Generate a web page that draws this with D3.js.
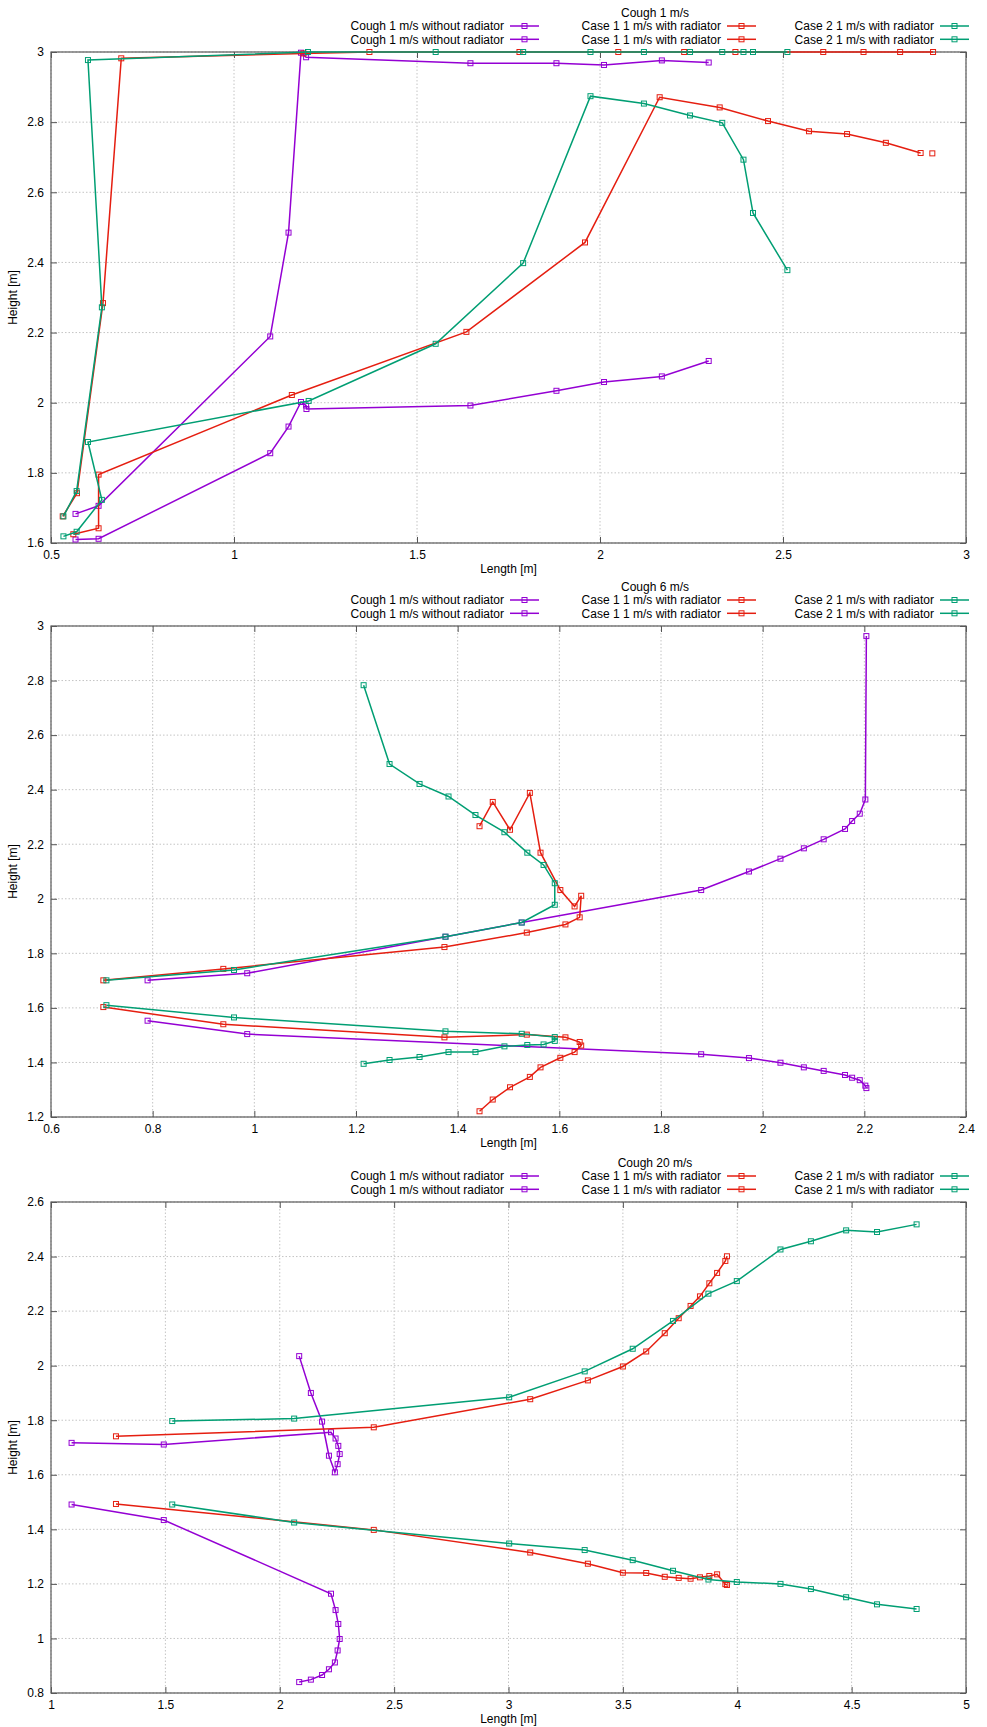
<!DOCTYPE html>
<html>
<head>
<meta charset="utf-8">
<script src="https://cdn.jsdelivr.net/npm/d3@7"></script>
<style>
  body { margin: 0; background: #fff; }
  text { font-family: "Liberation Sans", Arial, sans-serif; }
</style>
</head>
<body>
<svg width="987" height="1727"></svg>
<script>
// legend labels (same names are used for both branches of each case)
var seriesNames = ["Cough 1 m/s without radiator", "Cough 1 m/s without radiator",
                   "Case 1 1 m/s with radiator", "Case 1 1 m/s with radiator",
                   "Case 2 1 m/s with radiator", "Case 2 1 m/s with radiator"];
var panelTitles = ["Cough 1 m/s", "Cough 6 m/s", "Cough 20 m/s"];

// tick values
var p1XTicks = [0.5, 1, 1.5, 2, 2.5, 3];
var p1YTicks = [1.6, 1.8, 2, 2.2, 2.4, 2.6, 2.8, 3];
var p2XTicks = [0.6, 0.8, 1, 1.2, 1.4, 1.6, 1.8, 2, 2.2, 2.4];
var p2YTicks = [1.2, 1.4, 1.6, 1.8, 2, 2.2, 2.4, 2.6, 2.8, 3];
var p3XTicks = [1, 1.5, 2, 2.5, 3, 3.5, 4, 4.5, 5];
var p3YTicks = [0.8, 1, 1.2, 1.4, 1.6, 1.8, 2, 2.2, 2.4, 2.6];

// ---- Cough 1 m/s : [length, height], null = break in the line
var p1NoRadA = [[0.567,1.683],[0.630,1.706],[1.099,2.189],[1.149,2.485],[1.183,2.998],[1.197,2.985],[1.646,2.968],[1.881,2.968],[2.011,2.963],[2.169,2.976],[2.297,2.970]];
var p1NoRadB = [[0.567,1.610],[0.630,1.612],[1.099,1.856],[1.149,1.932],[1.183,2.002],[1.197,1.992],[1.198,1.982],[1.646,1.992],[1.881,2.034],[2.011,2.059],[2.169,2.075],[2.297,2.119]];
var p1Case1A = [[0.532,1.676],[0.571,1.742],[0.642,2.284],[0.692,2.982],[1.19,2.996],[1.37,3.0],[1.78,3.0],[2.05,3.0],[2.23,3.0],[2.37,3.0],[2.61,3.0],[2.72,3.0],[2.82,3.0],[2.91,3.0]];
var p1Case1B = [[0.561,1.625],[0.630,1.642],[0.630,1.795],[1.158,2.022],[1.635,2.202],[1.959,2.457],[2.163,2.871],[2.327,2.842],[2.459,2.803],[2.571,2.774],[2.675,2.766],[2.781,2.741],[2.876,2.712],null,[2.908,2.711]];
var p1Case2A = [[0.534,1.676],[0.570,1.748],[0.639,2.272],[0.601,2.977],[1.202,3.0],[1.551,3.0],[1.790,3.0],[1.974,3.0],[2.120,3.0],[2.246,3.0],[2.334,3.0],[2.392,3.0],[2.418,3.0],[2.512,3.0]];
var p1Case2B = [[0.534,1.619],[0.570,1.632],[0.639,1.723],[0.601,1.888],[1.204,2.005],[1.551,2.168],[1.790,2.398],[1.974,2.874],[2.120,2.853],[2.246,2.819],[2.334,2.798],[2.392,2.693],[2.418,2.541],[2.512,2.378]];

// ---- Cough 6 m/s
var p2NoRadA = [[0.790,1.701],[0.986,1.727],[1.376,1.861],[1.526,1.913],[1.879,2.032],[1.973,2.100],[2.035,2.147],[2.081,2.185],[2.120,2.218],[2.162,2.256],[2.176,2.285],[2.191,2.312],[2.202,2.364],[2.204,2.963]];
var p2NoRadB = [[0.790,1.553],[0.986,1.504],[1.879,1.430],[1.973,1.416],[2.035,1.399],[2.081,1.382],[2.120,1.369],[2.162,1.354],[2.176,1.344],[2.191,1.335],[2.202,1.315],[2.204,1.306]];
var p2Case1A = [[0.703,1.701],[0.939,1.743],[1.374,1.823],[1.536,1.876],[1.612,1.906],[1.640,1.932],[1.643,2.011],[1.630,1.972],[1.602,2.032],[1.563,2.169],[1.542,2.388],[1.503,2.253],[1.469,2.355],[1.443,2.266]];
var p2Case1B = [[0.703,1.603],[0.939,1.540],[1.374,1.492],[1.536,1.502],[1.612,1.492],[1.640,1.475],[1.643,1.462],[1.630,1.438],[1.602,1.417],[1.563,1.382],[1.542,1.347],[1.503,1.309],[1.469,1.264],[1.443,1.221]];
var p2Case2A = [[0.709,1.701],[0.960,1.739],[1.376,1.861],[1.526,1.913],[1.591,1.978],[1.591,2.057],[1.569,2.124],[1.537,2.169],[1.492,2.244],[1.435,2.307],[1.382,2.375],[1.325,2.421],[1.266,2.494],[1.215,2.783]];
var p2Case2B = [[0.709,1.610],[0.960,1.565],[1.376,1.514],[1.526,1.505],[1.591,1.493],[1.591,1.479],[1.569,1.466],[1.537,1.464],[1.492,1.459],[1.435,1.438],[1.382,1.438],[1.325,1.420],[1.266,1.409],[1.215,1.395]];

// ---- Cough 20 m/s
var p3NoRadA = [[1.090,1.717],[1.493,1.711],[2.224,1.756],[2.244,1.733],[2.256,1.706],[2.262,1.676],[2.253,1.639],[2.241,1.609],[2.215,1.670],[2.185,1.795],[2.136,1.900],[2.085,2.035]];
var p3NoRadB = [[1.090,1.491],[1.493,1.434],[2.224,1.164],[2.244,1.104],[2.256,1.053],[2.262,0.998],[2.253,0.956],[2.241,0.912],[2.215,0.887],[2.185,0.866],[2.136,0.849],[2.085,0.840]];
var p3Case1A = [[1.284,1.741],[2.411,1.774],[3.095,1.877],[3.347,1.946],[3.500,1.997],[3.602,2.052],[3.683,2.119],[3.744,2.174],[3.796,2.219],[3.837,2.254],[3.878,2.302],[3.912,2.340],[3.948,2.384],[3.955,2.401]];
var p3Case1B = [[1.284,1.493],[2.411,1.398],[3.095,1.315],[3.347,1.274],[3.500,1.241],[3.602,1.240],[3.683,1.226],[3.744,1.222],[3.796,1.219],[3.837,1.224],[3.878,1.229],[3.912,1.235],[3.948,1.199],[3.955,1.196]];
var p3Case2A = [[1.530,1.797],[2.063,1.806],[3.003,1.884],[3.333,1.979],[3.543,2.062],[3.719,2.164],[3.874,2.264],[3.998,2.310],[4.189,2.426],[4.322,2.456],[4.476,2.496],[4.611,2.490],[4.784,2.518]];
var p3Case2B = [[1.530,1.491],[2.063,1.425],[3.003,1.348],[3.333,1.324],[3.543,1.287],[3.719,1.248],[3.874,1.216],[3.998,1.207],[4.189,1.200],[4.322,1.181],[4.476,1.151],[4.611,1.125],[4.784,1.108]];

var colors = ["#9400d3", "#9400d3", "#e51e10", "#e51e10", "#009e73", "#009e73"];

var panels = [
  { title: panelTitles[0], xTicks: p1XTicks, yTicks: p1YTicks, top: 52,
    series: [p1NoRadA, p1NoRadB, p1Case1A, p1Case1B, p1Case2A, p1Case2B] },
  { title: panelTitles[1], xTicks: p2XTicks, yTicks: p2YTicks, top: 626,
    series: [p2NoRadA, p2NoRadB, p2Case1A, p2Case1B, p2Case2A, p2Case2B] },
  { title: panelTitles[2], xTicks: p3XTicks, yTicks: p3YTicks, top: 1202,
    series: [p3NoRadA, p3NoRadB, p3Case1A, p3Case1B, p3Case2A, p3Case2B] }
];

var svg = d3.select("svg");
svg.append("rect").attr("width", 987).attr("height", 1727).attr("fill", "#fff");

var left = 51, right = 966, height = 491;
var legendTextEnd = [504, 721, 934];

panels.forEach(function (p) {
  var top = p.top, bottom = top + height;
  var x = d3.scaleLinear().domain(d3.extent(p.xTicks)).range([left, right]);
  var y = d3.scaleLinear().domain(d3.extent(p.yTicks)).range([bottom, top]);
  var g = svg.append("g");

  // grid
  g.append("g").selectAll("line").data(p.xTicks).enter().append("line")
    .attr("x1", function (d) { return x(d); }).attr("x2", function (d) { return x(d); })
    .attr("y1", top).attr("y2", bottom)
    .attr("stroke", "#c4c4c4").attr("stroke-dasharray", "1.5,2");
  g.append("g").selectAll("line").data(p.yTicks).enter().append("line")
    .attr("y1", function (d) { return y(d); }).attr("y2", function (d) { return y(d); })
    .attr("x1", left).attr("x2", right)
    .attr("stroke", "#c4c4c4").attr("stroke-dasharray", "1.5,2");

  // axes (ticks pointing inwards, mirrored on top and right)
  var ax = [
    g.append("g").attr("transform", "translate(0," + bottom + ")")
      .call(d3.axisBottom(x).tickValues(p.xTicks).tickSize(-6).tickPadding(7).tickFormat(d3.format(""))),
    g.append("g").attr("transform", "translate(" + left + ",0)")
      .call(d3.axisLeft(y).tickValues(p.yTicks).tickSize(-6).tickPadding(7).tickFormat(d3.format(""))),
    g.append("g").attr("transform", "translate(0," + top + ")")
      .call(d3.axisTop(x).tickValues(p.xTicks).tickSize(-6).tickFormat("")),
    g.append("g").attr("transform", "translate(" + right + ",0)")
      .call(d3.axisRight(y).tickValues(p.yTicks).tickSize(-6).tickFormat(""))
  ];
  ax.forEach(function (a) {
    a.select(".domain").remove();
    a.selectAll(".tick line").attr("stroke", "#555");
    a.selectAll("text").attr("font-size", 12).attr("fill", "#000")
      .style("font-family", "'Liberation Sans', Arial, sans-serif");
  });

  g.append("rect").attr("x", left).attr("y", top)
    .attr("width", right - left).attr("height", height)
    .attr("fill", "none").attr("stroke", "#5a5a5a").attr("stroke-width", 1.2);

  // axis titles
  g.append("text").attr("x", (left + right) / 2).attr("y", bottom + 30)
    .attr("text-anchor", "middle").attr("font-size", 12).text("Length [m]");
  g.append("text").attr("transform", "translate(17," + (top + height / 2) + ") rotate(-90)")
    .attr("text-anchor", "middle").attr("font-size", 12).text("Height [m]");

  // lines and markers
  var line = d3.line()
    .defined(function (d) { return d !== null; })
    .x(function (d) { return x(d[0]); })
    .y(function (d) { return y(d[1]); });

  p.series.forEach(function (s, i) {
    g.append("path").datum(s).attr("d", line)
      .attr("fill", "none").attr("stroke", colors[i]).attr("stroke-width", 1.5);
    g.append("g").selectAll("rect").data(s.filter(function (d) { return d !== null; }))
      .enter().append("rect")
      .attr("x", function (d) { return x(d[0]) - 2.5; })
      .attr("y", function (d) { return y(d[1]) - 2.5; })
      .attr("width", 5).attr("height", 5)
      .attr("fill", "none").attr("stroke", colors[i]).attr("stroke-width", 1);
  });

  // legend
  g.append("text").attr("x", 655).attr("y", top - 35)
    .attr("text-anchor", "middle").attr("font-size", 12).text(p.title);
  seriesNames.forEach(function (name, i) {
    var col = Math.floor(i / 2), row = i % 2;
    var ly = top - 26 + row * 13.3;
    var tx = legendTextEnd[col];
    g.append("text").attr("x", tx).attr("y", ly).attr("dy", "0.35em")
      .attr("text-anchor", "end").attr("font-size", 12).text(name);
    g.append("line").attr("x1", tx + 6).attr("x2", tx + 35)
      .attr("y1", ly).attr("y2", ly)
      .attr("stroke", colors[i]).attr("stroke-width", 1.5);
    g.append("rect").attr("x", tx + 20.5 - 2.5).attr("y", ly - 2.5)
      .attr("width", 5).attr("height", 5)
      .attr("fill", "none").attr("stroke", colors[i]);
  });
});
</script>
</body>
</html>
